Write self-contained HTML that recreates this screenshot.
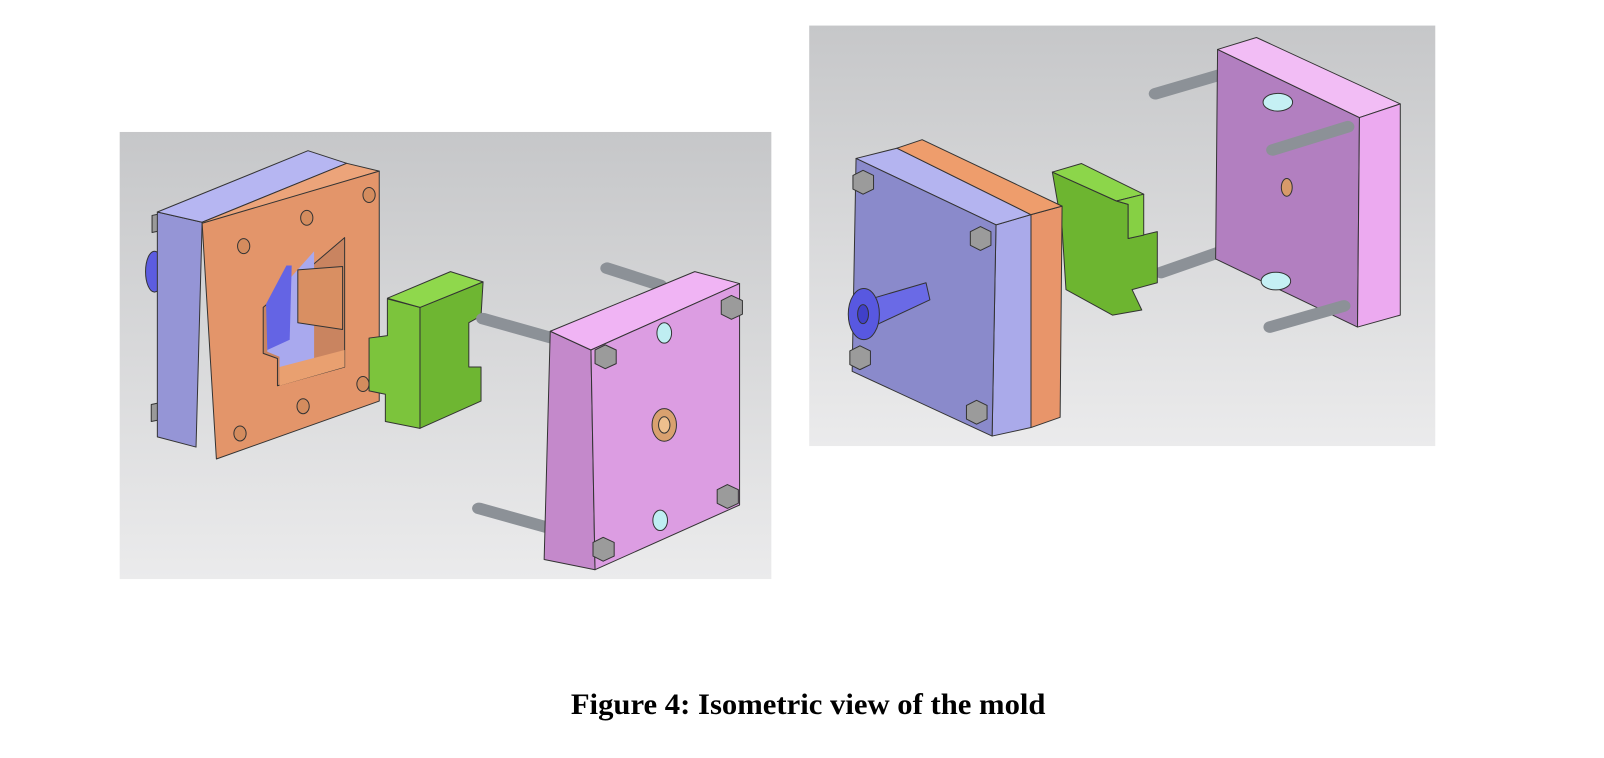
<!DOCTYPE html>
<html><head><meta charset="utf-8"><style>
html,body{margin:0;padding:0;background:#fff;}
svg{display:block;}
</style></head><body>
<svg width="1604" height="758" viewBox="0 0 1604 758" xmlns="http://www.w3.org/2000/svg">
<defs>
<linearGradient id="bg" x1="0" y1="0" x2="0" y2="1">
<stop offset="0" stop-color="#c6c7c9"/><stop offset="1" stop-color="#ebebec"/>
</linearGradient>
</defs>
<style>
.e{stroke:#333;stroke-width:1;vector-effect:non-scaling-stroke;stroke-linejoin:round}
.pin{stroke:#8c9197;stroke-width:34;stroke-linecap:round}
</style>
<g transform="scale(1.023)">
<rect x="117" y="129" width="637" height="437" fill="url(#bg)"/>
<g transform="translate(116,129) scale(0.398,0.333)">
  <ellipse class="e" cx="88" cy="410" rx="22" ry="60" fill="#5c5ce0"/>
  <polygon class="e" points="82,245 102,240 102,290 82,295" fill="#9a9a9a"/>
  <polygon class="e" points="80,800 100,795 100,845 80,850" fill="#9a9a9a"/>
  <polygon class="e" points="95,235 205,265 190,925 95,895" fill="#9595d6"/>
  <polygon class="e" points="95,235 465,55 560,92 205,265" fill="#b6b6f2"/>
  <polygon class="e" points="205,265 560,92 640,115 210,272" fill="#eca47a"/>
  <polygon class="e" points="205,268 640,115 640,790 240,960" fill="#e3956a"/>
  <polygon class="e" points="355,515 555,310 555,690 390,745 390,665 355,650" fill="#c98460"/>
  <polygon points="365,505 480,350 480,700 395,740 395,660 365,645" fill="#a9a9ee"/>
  <polygon points="362,505 412,392 425,392 420,610 365,640" fill="#6464e4"/>
  <polygon class="e" points="440,405 550,395 550,580 440,560" fill="#d98f62"/>
  <polygon points="395,690 555,640 555,690 395,745" fill="#e9a070"/>
  <g fill="#d48c5e" class="e">
    <ellipse class="e" cx="307" cy="335" rx="15" ry="22"/>
    <ellipse class="e" cx="462" cy="252" rx="15" ry="22"/>
    <ellipse class="e" cx="615" cy="185" rx="15" ry="22"/>
    <ellipse class="e" cx="298" cy="885" rx="15" ry="22"/>
    <ellipse class="e" cx="453" cy="805" rx="15" ry="22"/>
    <ellipse class="e" cx="600" cy="740" rx="15" ry="22"/>
  </g>
  <polygon class="e" points="740,515 895,440 890,540 860,560 860,690 890,690 890,790 740,870" fill="#6eb632"/>
  <polygon class="e" points="615,605 660,598 660,490 740,515 740,870 655,850 655,770 615,760" fill="#7cc43c"/>
  <polygon class="e" points="660,488 815,410 895,440 740,515" fill="#8fd84c"/>
  <line class="pin" x1="1200" y1="400" x2="1330" y2="450"/>
  <line class="pin" x1="895" y1="548" x2="1065" y2="605"/>
  <line class="pin" x1="885" y1="1105" x2="1050" y2="1160"/>
  <polygon class="e" points="1060,585 1160,640 1170,1285 1045,1255" fill="#c489cb"/>
  <polygon class="e" points="1060,585 1415,410 1525,445 1160,640" fill="#f0b4f4"/>
  <polygon class="e" points="1160,640 1525,445 1525,1095 1170,1285" fill="#dc9de2"/>
  <g fill="#9b9b9b">
    <polygon class="e" points="1170,640 1195,625 1222,640 1222,680 1195,695 1170,680"/>
    <polygon class="e" points="1480,495 1505,480 1532,495 1532,535 1505,550 1480,535"/>
    <polygon class="e" points="1470,1050 1495,1035 1522,1050 1522,1090 1495,1105 1470,1090"/>
    <polygon class="e" points="1165,1205 1190,1190 1217,1205 1217,1245 1190,1260 1165,1245"/>
  </g>
  <ellipse class="e" cx="1340" cy="590" rx="18" ry="30" fill="#bfeef2"/>
  <ellipse class="e" cx="1330" cy="1140" rx="18" ry="30" fill="#bfeef2"/>
  <ellipse class="e" cx="1340" cy="860" rx="30" ry="48" fill="#d9a16f"/>
  <ellipse class="e" cx="1340" cy="860" rx="14" ry="24" fill="#eec08e"/>
</g>

<rect x="791" y="25" width="612" height="411" fill="url(#bg)"/>
<g transform="translate(776,20) scale(0.380,0.333)">
  <line class="pin" x1="930" y1="215" x2="1125" y2="150"/>
  <line class="pin" x1="945" y1="740" x2="1115" y2="672"/>
  <polygon class="e" points="1090,85 1455,285 1450,900 1085,700" fill="#b27fc0"/>
  <polygon class="e" points="1090,85 1190,50 1560,245 1455,285" fill="#f2bdf5"/>
  <polygon class="e" points="1455,285 1560,245 1560,865 1450,900" fill="#ecaaf0"/>
  <line class="pin" x1="1232" y1="380" x2="1425" y2="312"/>
  <line class="pin" x1="1225" y1="900" x2="1415" y2="838"/>
  <ellipse class="e" cx="1245" cy="240" rx="38" ry="26" fill="#c5f0f4"/>
  <ellipse class="e" cx="1240" cy="765" rx="38" ry="26" fill="#c5f0f4"/>
  <ellipse class="e" cx="1268" cy="490" rx="14" ry="26" fill="#d89a6a"/>
  <polygon class="e" points="665,445 830,530 860,540 860,640 935,620 935,770 870,790 895,850 820,865 700,790 690,610" fill="#6db530"/>
  <polygon class="e" points="665,445 740,420 900,510 830,530" fill="#8cd64a"/>
  <polygon class="e" points="830,530 900,510 900,630 860,640 860,540" fill="#86d044"/>
  <polygon class="e" points="610,570 690,545 685,1165 610,1195" fill="#e8956a"/>
  <polygon class="e" points="520,600 610,570 610,1195 510,1220" fill="#aaaaea"/>
  <polygon class="e" points="160,405 265,375 610,570 520,600" fill="#b4b4f0"/>
  <polygon class="e" points="265,375 330,350 690,545 610,570" fill="#ee9d6c"/>
  <polygon class="e" points="160,405 520,600 510,1220 150,1030" fill="#8a8acb"/>
  <g fill="#9b9b9b">
    <polygon class="e" points="152,455 178,440 205,455 205,495 178,510 152,495"/>
    <polygon class="e" points="454,620 480,605 507,620 507,660 480,675 454,660"/>
    <polygon class="e" points="144,970 170,955 197,970 197,1010 170,1025 144,1010"/>
    <polygon class="e" points="444,1130 470,1115 497,1130 497,1170 470,1185 444,1170"/>
  </g>
  <polygon class="e" points="190,820 340,770 350,820 200,900" fill="#6a6ae6"/>
  <ellipse class="e" cx="180" cy="862" rx="40" ry="75" fill="#5858e0"/>
  <ellipse class="e" cx="178" cy="862" rx="14" ry="28" fill="#4040c8"/>
</g>

<text x="790" y="698" text-anchor="middle" font-family="Liberation Serif, serif" font-weight="bold" font-size="29" textLength="464" lengthAdjust="spacingAndGlyphs" fill="#000">Figure 4: Isometric view of the mold</text>
</g>
</svg>
</body></html>
